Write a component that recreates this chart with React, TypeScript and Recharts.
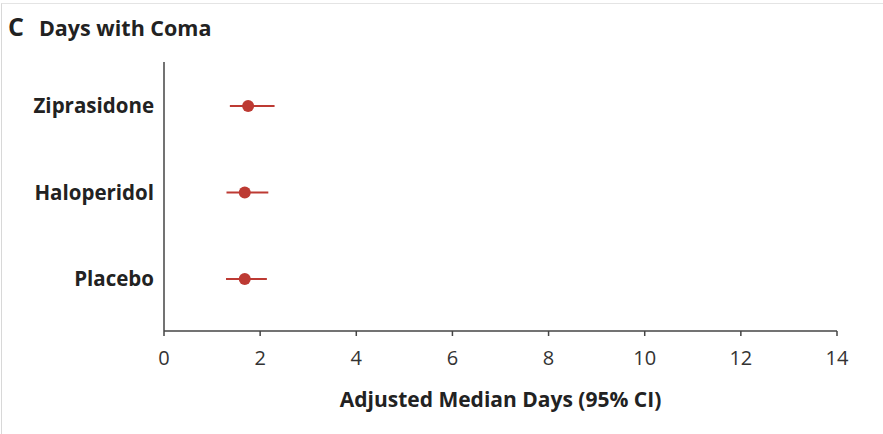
import { ScatterChart, Scatter, XAxis, YAxis, ErrorBar } from "recharts";

const groups = ["Placebo", "Haloperidol", "Ziprasidone"];
const medians = [1.68, 1.68, 1.75];
const lowerCI = [1.29, 1.3, 1.37];
const upperCI = [2.14, 2.17, 2.3];
const xTicks = [0, 2, 4, 6, 8, 10, 12, 14];

const RED = "#bd3a33";
const FONT = "'Open Sans', sans-serif";

const data = groups.map((name, i) => ({
    name,
    pos: i + 1,
    median: medians[i],
    err: [medians[i] - lowerCI[i], upperCI[i] - medians[i]],
}));

export default function App() {
    return (
        <div style={{ position: "relative", width: 883, height: 434, background: "#fff", fontFamily: FONT }}>
            <style>{`body{margin:0}`}</style>
            <div style={{ position: "absolute", left: 1, top: 3, width: 882, height: 431, borderLeft: "1px solid #d8d8d8", borderTop: "1px solid #e4e4e4" }} />
            <div style={{ position: "absolute", left: 8, top: 9, fontWeight: 700, color: "#222", whiteSpace: "nowrap", lineHeight: "34px" }}>
                <span style={{ fontSize: 25 }}>C</span>
                <span style={{ fontSize: 21.5, marginLeft: 15 }}>Days with Coma</span>
            </div>
            <ScatterChart width={883} height={434} margin={{ top: 62, right: 46, bottom: 23, left: 0 }}>
                <XAxis
                    type="number"
                    dataKey="median"
                    domain={[0, 14]}
                    ticks={xTicks}
                    interval={0}
                    tickSize={5}
                    tickMargin={15}
                    height={80}
                    stroke="#444"
                    strokeWidth={1.5}
                    tick={{ fill: "#333", fontSize: 20, fontFamily: FONT }}
                    label={{ value: "Adjusted Median Days (95% CI)", position: "insideBottom", offset: 4, fill: "#222", fontSize: 21, fontWeight: 700, fontFamily: FONT }}
                />
                <YAxis
                    type="number"
                    dataKey="pos"
                    domain={[0.4, 3.51]}
                    ticks={[1, 2, 3]}
                    tickFormatter={(v: number) => groups[v - 1]}
                    width={164}
                    tickLine={false}
                    tickSize={0}
                    tickMargin={10}
                    stroke="#444"
                    strokeWidth={1.5}
                    tick={{ fill: "#222", fontSize: 20.5, fontWeight: 700, fontFamily: FONT }}
                />
                <Scatter data={data} fill={RED} isAnimationActive={false} shape={(p: any) => <circle cx={p.cx} cy={p.cy} r={6} fill={RED} />}>
                    <ErrorBar dataKey="err" direction="x" width={0} stroke={RED} strokeWidth={2} />
                </Scatter>
            </ScatterChart>
        </div>
    );
}
